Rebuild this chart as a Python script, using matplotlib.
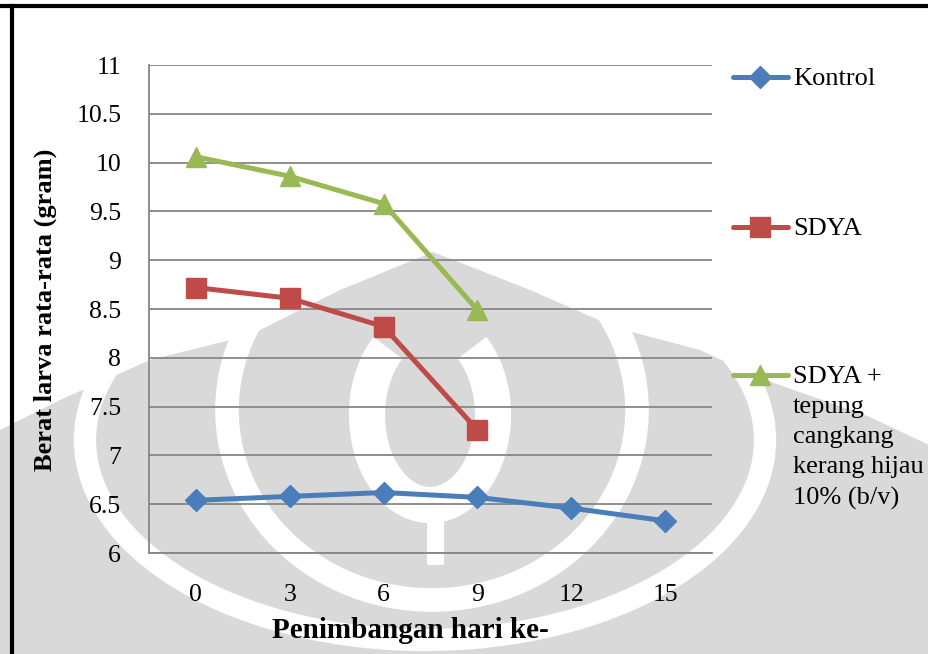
import matplotlib
matplotlib.use("Agg")
import matplotlib.pyplot as plt
from matplotlib.patches import Ellipse, Arc, Polygon, FancyBboxPatch

# data
days = ["0", "3", "6", "9", "12", "15"]
kontrol = [6.54, 6.58, 6.62, 6.57, 6.46, 6.33]
sdya = [8.72, 8.61, 8.32, 7.26]
sdya_tepung = [10.06, 9.86, 9.58, 8.49]
yticks = [6, 6.5, 7, 7.5, 8, 8.5, 9, 9.5, 10, 10.5, 11]
ytick_labels = ["6", "6.5", "7", "7.5", "8", "8.5", "9", "9.5", "10", "10.5", "11"]
series_names = ["Kontrol", "SDYA", "SDYA +\ntepung\ncangkang\nkerang hijau\n10% (b/v)"]

blue = "#4A7EBB"
red = "#BE4B48"
green = "#98B954"

plt.rcParams['font.family'] = ['Liberation Serif', 'DejaVu Serif']

fig = plt.figure(figsize=(9.29, 6.54), dpi=100)

# page background in pixel coords: faint logo watermark + page frame
bg = fig.add_axes([0, 0, 1, 1], zorder=0)
bg.set_xlim(0, 929)
bg.set_ylim(654, 0)
bg.axis("off")
wm = "#d9d9d9"
outline = [(0, 430), (60, 400), (150, 360), (250, 335), (340, 290), (433, 252),
           (530, 290), (617, 328), (700, 350), (760, 378), (870, 417), (929, 445),
           (929, 654), (0, 654)]
bg.add_patch(Polygon(outline, closed=True, color=wm, lw=0))
bg.add_patch(Ellipse((425, 440), 680, 400, fill=False, ec="white", lw=16))
bg.add_patch(Ellipse((432, 410), 410, 380, fill=False, ec="white", lw=17))
bg.add_patch(Arc((430, 415), 126, 180, theta1=-58, theta2=238, ec="white", lw=26))
bg.add_patch(FancyBboxPatch((429, 515), 13, 48, boxstyle="round,pad=2", color="white", lw=0))
bg.plot([0, 929], [6, 6], color="black", lw=3)
bg.plot([12, 12], [6, 654], color="black", lw=3)

ax = fig.add_axes([0.1604, 0.1544, 0.6060, 0.7462], zorder=1)
ax.set_facecolor("none")

x = list(range(len(days)))
ax.plot(x, kontrol, color=blue, lw=3.6, marker="D", ms=11,
        mfc=blue, mec=blue, zorder=3)
ax.plot(x[:len(sdya)], sdya, color=red, lw=3.6, marker="s", ms=14,
        mfc=red, mec=red, zorder=3)
ax.plot(x[:len(sdya_tepung)], sdya_tepung, color=green, lw=3.6, marker="^", ms=14,
        mfc=green, mec=green, zorder=3)

ax.set_xlim(-0.5, len(days) - 0.5)
ax.set_ylim(6, 11)
ax.set_xticks(x)
ax.set_xticklabels(days)
ax.set_yticks(yticks)
ax.set_yticklabels(ytick_labels)
ax.tick_params(axis="both", length=0, labelsize=18.5)
ax.tick_params(axis="x", pad=22)
ax.tick_params(axis="y", pad=20)
ax.yaxis.grid(True, color="#868686", lw=1.3)
ax.set_axisbelow(True)
for side in ["top", "right"]:
    ax.spines[side].set_visible(False)
for side in ["left", "bottom"]:
    ax.spines[side].set_color("#868686")
    ax.spines[side].set_linewidth(1.3)

fig.text(410 / 929, 1 - 630 / 654, "Penimbangan hari ke-", fontsize=21,
         fontweight="bold", ha="center", va="center")
fig.text(45 / 929, 1 - 310 / 654, "Berat larva rata-rata (gram)", fontsize=19,
         fontweight="bold", ha="center", va="center", rotation=90)

# legend drawn by hand on the right
leg_layer = fig.add_axes([0, 0, 1, 1], zorder=2)
leg_layer.set_xlim(0, 929)
leg_layer.set_ylim(654, 0)
leg_layer.axis("off")
leg_y = [77, 227, 375]
styles = [(blue, "D", 11), (red, "s", 14), (green, "^", 14)]
for name, yy, (c, m, s) in zip(series_names, leg_y, styles):
    leg_layer.plot([733, 788], [yy, yy], color=c, lw=3.6, solid_capstyle="round")
    leg_layer.plot([760], [yy], marker=m, ms=s, color=c)
    leg_layer.text(793, yy - 9, name, fontsize=19, ha="left", va="top", linespacing=1.48)

fig.savefig("out.png", dpi=100)
